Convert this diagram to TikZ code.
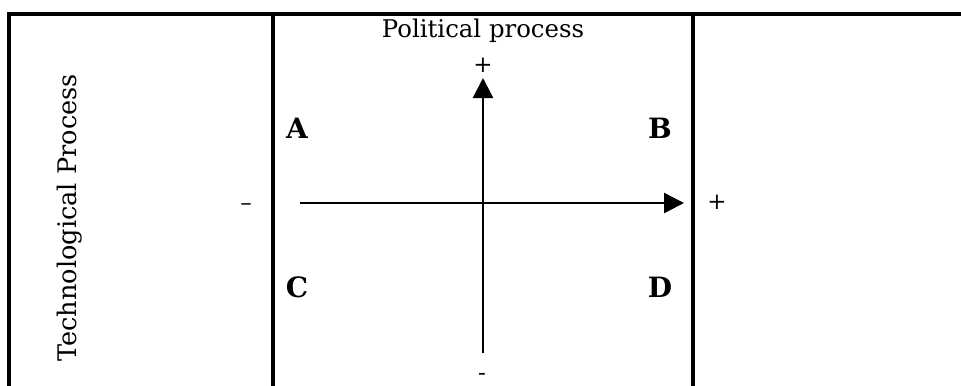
\documentclass[tikz,border=0pt]{standalone}
\usepackage{fontspec}
\setmainfont{DejaVu Serif}
\usepackage{tikz}
\usetikzlibrary{arrows.meta,positioning}

\begin{document}
\begin{tikzpicture}[
  x=0.5pt, y=-0.5pt,
  rule/.style={line width=1.6pt, line cap=rect},
  axis/.style={line width=1.2pt, -{Triangle[length=10pt, width=10pt]}},
  label/.style={inner sep=0pt, font=\fontsize{12.2}{15}\selectfont},
  quad/.style={inner sep=0pt, font=\fontsize{14}{17}\selectfont\bfseries},
  sign/.style={inner sep=0pt, font=\fontsize{11.5}{14}\selectfont}
]
  \useasboundingbox (0,0) rectangle (961,385);

  % table rules
  \draw[rule] (9,14) -- (961,14);
  \draw[rule] (9,14) -- (9,385);
  \draw[rule] (273,14) -- (273,385);
  \draw[rule] (693,14) -- (693,385);

  % headings
  \node[label, rotate=90] (tech) at (70,218) {\fontsize{12.8}{15}\selectfont Technological Process};
  \node[label] (pol) at (483,31) {Political process};

  % axes
  \coordinate (ybot) at (483,353);
  \coordinate (ytop) at (483,78);
  \coordinate (xleft) at (300,203);
  \coordinate (xright) at (684,203);
  \draw[axis] (ybot) -- (ytop);
  \draw[axis] (xleft) -- (xright);

  % signs
  \node[sign] (yplus) at (483,65) {+};
  \node[sign] (yminus) at (482,377) {-};
  \node[sign] (xminus) at (246,207) {–};
  \node[sign] (xplus) at (717,202) {+};

  % quadrants
  \node[quad] (qa) at (297,128) {A};
  \node[quad] (qb) at (660,128) {B};
  \node[quad] (qc) at (297,287) {C};
  \node[quad] (qd) at (660,287) {D};
\end{tikzpicture}
\end{document}
